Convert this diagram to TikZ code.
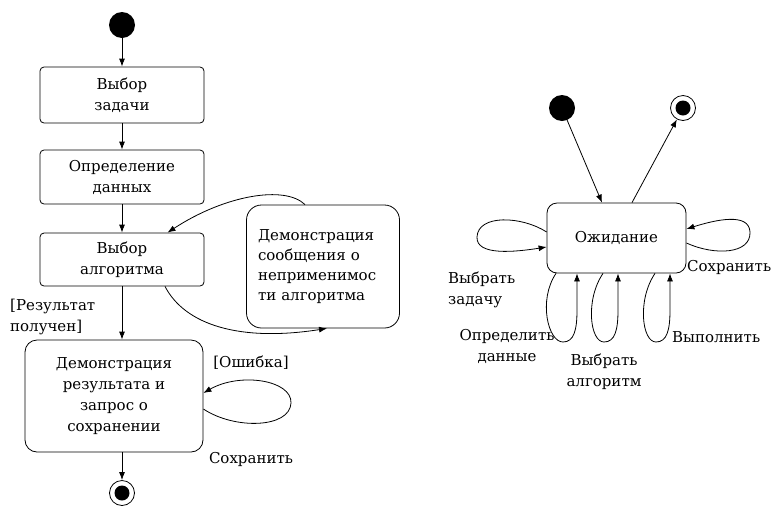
\documentclass[tikz,border=0pt]{standalone}
\usepackage{fontspec}
\setmainfont{DejaVu Serif}
\newfontfamily\diagfont{DejaVu Serif}
\usetikzlibrary{arrows.meta,calc}
\begin{document}
\begin{tikzpicture}[x=1pt,y=-1pt,
  every node/.style={font=\diagfont\fontsize{15}{21}\selectfont, inner sep=0pt},
  state/.style={draw, line width=0.8pt, rounded corners=#1, align=center},
  state/.default=4pt,
  startdot/.style={circle, fill=black, minimum size=26pt},
  enddot/.style={circle, draw, line width=0.8pt, minimum size=25pt,
     path picture={\fill (path picture bounding box.center) circle (7.5pt);}},
  conn/.style={line width=0.8pt, -{Latex[length=8pt,width=6pt]}},
  lbl/.style={align=left}
]
\useasboundingbox (0,0) rectangle (776,507);

% ---- left diagram ----
\node[startdot] (i1) at (122,25) {};
\node[state, minimum width=164pt, minimum height=56pt] (b1) at (122,95) {Выбор\\задачи};
\node[state, minimum width=164pt, minimum height=54pt] (b2) at (122,177) {Определение\\данных};
\node[state, minimum width=164pt, minimum height=53pt] (b3) at (122,259.5) {Выбор\\алгоритма};
\node[state=12pt, minimum width=178pt, minimum height=112pt] (b4) at (114,396) {Демонстрация\\результата и\\запрос о\\сохранении};
\node[state=15pt, minimum width=153pt, minimum height=123pt, text width=130pt, align=left,
      font=\diagfont\fontsize{15}{20}\selectfont] (msg) at (323,266.5) {Демонстрация\\сообщения о\\неприменимос\\ти алгоритма};
\node[enddot] (f1) at (122,493) {};

\draw[conn] (i1) -- (b1.north);
\draw[conn] (b1.south) -- (b2.north);
\draw[conn] (b2.south) -- (b3.north);
\draw[conn] (b3.south) -- (b3.south |- b4.north);
\draw[conn] (f1 |- b4.south) -- (f1);

\node[lbl, anchor=west] (lres) at (10,317) {[Результат\\получен]};

\coordinate (b3out) at ([xshift=43pt]b3.south);
\coordinate (msgin) at ([xshift=4pt]msg.south);
\draw[conn] (b3out) .. controls (185,325) and (240,342) .. (msgin);

\coordinate (msgout) at ([xshift=-18pt]msg.north);
\coordinate (b3in) at ([xshift=45.5pt]b3.north);
\draw[conn] (msgout) .. controls (285,185) and (225,195) .. (b3in);

% note: yshift acts on the page (positive = up)
\coordinate (b4a) at ([yshift=-13pt]b4.east);
\coordinate (b4b) at ([yshift=3pt]b4.east);
\draw[conn] (b4a) .. controls (235,430) and (290,428) .. (291,403)
               .. controls (292,380) and (240,372) .. (b4b);
\node (lerr) at (251,363) {[Ошибка]};
\node (lsave1) at (251,459) {Сохранить};

% ---- right diagram ----
\node[startdot] (i2) at (562,108) {};
\node[enddot] (f2) at (683,108) {};
\node[state=10pt, minimum width=139pt, minimum height=70pt] (w) at (616.5,238) {Ожидание};

\coordinate (win) at ([xshift=-14.5pt]w.north);
\coordinate (wout) at ([xshift=15.5pt]w.north);
\draw[conn] (i2) -- (win);
\draw[conn] (wout) -- (f2);

\coordinate (wl1) at ([yshift=6pt]w.west);
\coordinate (wl2) at ([yshift=-9pt]w.west);
\draw[conn] (wl1) .. controls (522,216) and (478,214) .. (477,237)
                  .. controls (476,256) and (515,252) .. (wl2);

\coordinate (wr1) at ([yshift=-5pt]w.east);
\coordinate (wr2) at ([yshift=9pt]w.east);
\draw[conn] (wr1) .. controls (715,256) and (751,254) .. (750,232)
                  .. controls (749,212) and (715,220) .. (wr2);

\coordinate (ws1) at ([xshift=-60.5pt]w.south);
\coordinate (we1) at ([xshift=-39.5pt]w.south);
\draw[conn] (ws1) .. controls (538,300) and (548,342) .. (563,342)
                  .. controls (574,342) and (577,330) .. (577,310) -- (we1);
\coordinate (ws2) at ([xshift=-13.5pt]w.south);
\coordinate (we2) at ([xshift=1.5pt]w.south);
\draw[conn] (ws2) .. controls (585,300) and (590,342) .. (604,342)
                  .. controls (615,342) and (618,330) .. (618,310) -- (we2);
\coordinate (ws3) at ([xshift=38.5pt]w.south);
\coordinate (we3) at ([xshift=53.5pt]w.south);
\draw[conn] (ws3) .. controls (637,300) and (642,342) .. (656,342)
                  .. controls (667,342) and (670,330) .. (670,310) -- (we3);

\node[lbl, anchor=west] (lz) at (448,290) {Выбрать\\задачу};
\node[align=center] (ld) at (507,346) {Определить\\данные};
\node[align=center] (la) at (604,372) {Выбрать\\алгоритм};
\node[anchor=west] (lv) at (672,337) {Выполнить};
\node[anchor=west] (ls2) at (687,267) {Сохранить};
\end{tikzpicture}
\end{document}
